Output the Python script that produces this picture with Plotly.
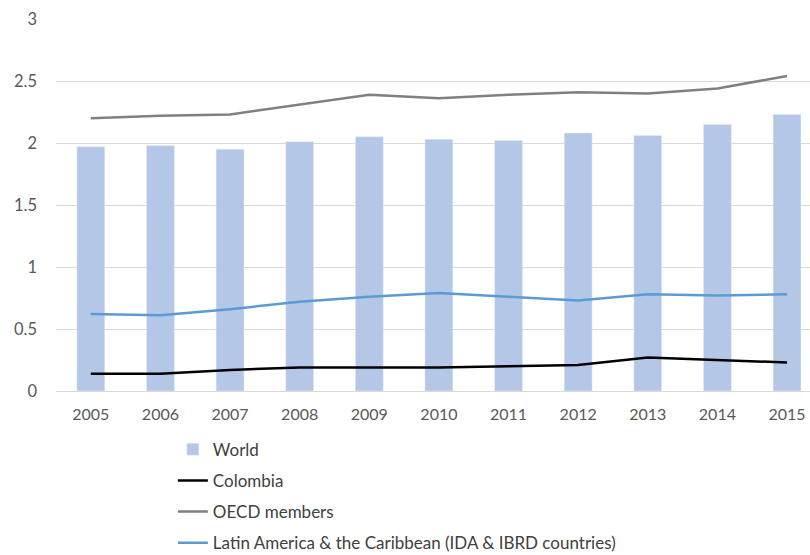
import plotly.graph_objects as go

years = ["2005", "2006", "2007", "2008", "2009", "2010", "2011", "2012", "2013", "2014", "2015"]
world = [1.97, 1.98, 1.95, 2.01, 2.05, 2.03, 2.02, 2.08, 2.06, 2.15, 2.23]
colombia = [0.14, 0.14, 0.17, 0.19, 0.19, 0.19, 0.20, 0.21, 0.27, 0.25, 0.23]
oecd = [2.20, 2.22, 2.23, 2.31, 2.39, 2.36, 2.39, 2.41, 2.40, 2.44, 2.54]
latam = [0.62, 0.61, 0.66, 0.72, 0.76, 0.79, 0.76, 0.73, 0.78, 0.77, 0.78]
y_ticks = [0, 0.5, 1, 1.5, 2, 2.5, 3]

font_family = "Lato, Open Sans, sans-serif"

fig = go.Figure()
fig.add_trace(go.Bar(x=years, y=world, name="World", marker_color="#B4C7E7",
                     width=0.4, legendgroup="a"))
fig.add_trace(go.Scatter(x=years, y=colombia, name="Colombia", mode="lines",
                         line=dict(color="#000000", width=2.5), legendgroup="b"))
fig.add_trace(go.Scatter(x=years, y=oecd, name="OECD members", mode="lines",
                         line=dict(color="#808080", width=2.5), legendgroup="c"))
fig.add_trace(go.Scatter(x=years, y=latam, name="Latin America & the Caribbean (IDA & IBRD countries)",
                         mode="lines", line=dict(color="#5B9BD5", width=2.5), legendgroup="d"))

fig.update_layout(
    width=810, height=555,
    margin=dict(l=56, r=0, t=19, b=164, autoexpand=False),
    plot_bgcolor="white", paper_bgcolor="white",
    font=dict(family=font_family, size=15.5, color="#595959"),
    showlegend=True,
    legend=dict(
        orientation="v", x=0.155, y=0.222, xref="paper", yref="container",
        xanchor="left", yanchor="top",
        traceorder="grouped", tracegroupgap=6,
        font=dict(size=17, color="#404040"),
        itemwidth=30,
    ),
    xaxis=dict(
        type="category", range=[-0.5, 10.33],
        showgrid=False, showline=True, linecolor="#D9D9D9", linewidth=1,
        ticks="", ticklabelstandoff=9, tickfont=dict(size=16, color="#595959"),
    ),
    yaxis=dict(
        range=[0, 3], tickvals=y_ticks, ticktext=[f"{v:g}" for v in y_ticks],
        showgrid=True, gridcolor="#D9D9D9", gridwidth=1, zeroline=False,
        showline=False, ticks="", ticklabelstandoff=18,
        tickfont=dict(size=16.5, color="#595959"),
    ),
)

fig.write_html("out.html")
